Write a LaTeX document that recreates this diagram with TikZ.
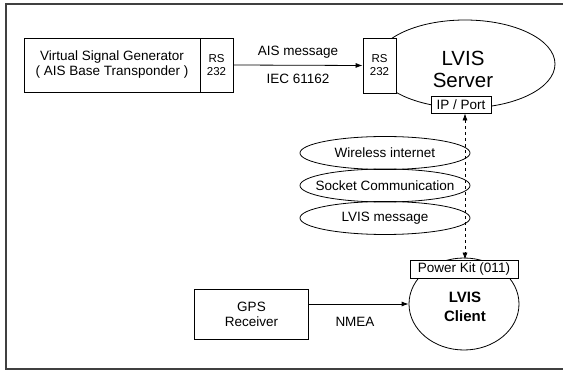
\documentclass[tikz,border=0pt]{standalone}
\usepackage{fontspec}
\setmainfont{Liberation Sans}
\usetikzlibrary{shapes.geometric,arrows.meta}
\begin{document}
\begin{tikzpicture}[x=1pt,y=-1pt,
  box/.style={draw,fill=white,inner sep=0pt,line width=0.8pt,align=center},
  oval/.style={draw,ellipse,inner sep=0pt,line width=0.8pt,align=center},
  arr/.style={-{Latex[length=7pt,width=5pt]},line width=0.8pt},
  darr/.style={{Latex[length=7pt,width=5pt]}-{Latex[length=7pt,width=5pt]},dashed,line width=0.7pt},
  lbl/.style={inner sep=0pt,font=\fontsize{13.5}{15}\selectfont},
  txt/.style={font=\fontsize{13.5}{15}\selectfont},
  small/.style={font=\fontsize{11.5}{13}\selectfont},
  layer/.style={oval,minimum width=170pt,minimum height=33pt,label={[txt,inner sep=0pt]center:#1}}
]
\useasboundingbox (0,0) rectangle (563,371);
\begin{scope}
\clip (0,0) rectangle (563,371);
\draw[line width=1.3pt,draw=black!75] (575,4) -- (6,4) -- (6,369) -- (575,369);
\end{scope}

% top row
\node[box,txt,minimum width=176pt,minimum height=54pt] (vsg) at (112,65) {Virtual Signal Generator\\( AIS Base Transponder )};
\node[box,small,minimum width=33pt,minimum height=54pt] (rs1) at (216.5,65) {RS\\232};

\node[oval,minimum width=180pt,minimum height=88pt] (server) at (465,64) {};
\node[font=\fontsize{20.5}{22}\selectfont,align=center,inner sep=0pt] (srvtxt) at (463,69) {LVIS\\Server};
\node[box,small,minimum width=33pt,minimum height=55pt] (rs2) at (379.5,65.5) {RS\\232};
\node[box,txt,minimum width=60pt,minimum height=17pt] (ip) at (461,104.5) {IP / Port};

\draw[arr] (rs1.east) -- (rs2.west);
\node[lbl] (ais) at (298,52) {AIS message};
\node[lbl] (iec) at (298,79) {IEC 61162};

% middle ellipses
\node[layer=Wireless internet] (wifi) at (385,153) {};
\node[layer=Socket Communication] (sock) at (385,185.5) {};
\node[layer=LVIS message] (msg) at (385,218) {};

% client
\node[oval,minimum width=110pt,minimum height=92pt] (client) at (464,304) {};
\node[font=\bfseries\fontsize{15}{19}\selectfont,align=center,inner sep=0pt] (clitxt) at (465,307) {LVIS\\Client};
\node[box,txt,minimum width=108pt,minimum height=18pt] (pk) at (464,269) {Power Kit (011)};

\draw[darr] ([xshift=4pt]ip.south) -- ([xshift=1pt]pk.north);

% GPS
\node[box,txt,minimum width=114pt,minimum height=50pt] (gps) at (251.5,314) {GPS\\Receiver};
\draw[arr] (gps.east |- client.west) -- (client.west);
\node[lbl] (nmea) at (355,322) {NMEA};
\end{tikzpicture}
\end{document}
